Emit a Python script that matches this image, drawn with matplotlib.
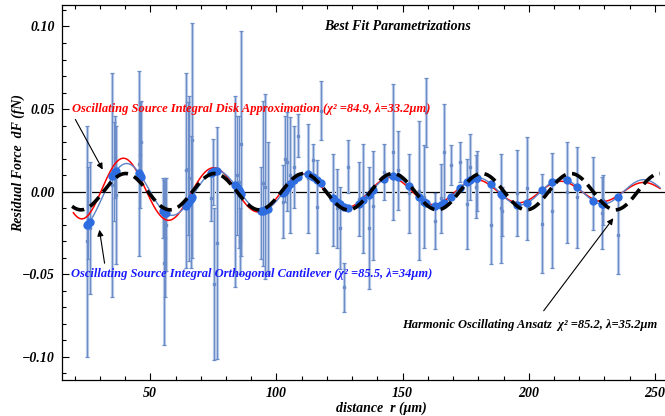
import numpy as np
import matplotlib
matplotlib.use("Agg")
import matplotlib.pyplot as plt
from matplotlib.ticker import MultipleLocator

# measured residuals: distance (um), force (fN), error (fN)
r_data = [25.0, 25.4, 26.0, 35.0, 35.5, 36.0, 36.4, 45.6, 46.1, 46.5,
          55.0, 55.5, 56.0, 56.4, 64.0, 64.8, 65.4, 66.0, 66.5,
          74.0, 74.8, 75.2, 76.3, 83.5, 84.2, 85.0, 85.5, 86.1,
          93.8, 94.6, 95.4, 96.5, 102.5, 103.3, 104.0, 105.5, 107.0, 108.5,
          112.5, 114.5, 116.0, 117.5, 122.5, 124.0, 125.0, 126.7, 128.3,
          132.8, 134.4, 136.5, 138.1, 142.7, 146.0, 148.0,
          152.6, 156.6, 158.6, 159.2, 163.0, 165.2, 166.5, 169.2,
          172.7, 175.4, 176.7, 179.0, 179.6, 184.9, 188.9, 189.5,
          195.2, 199.2, 205.4, 209.1, 215.2, 219.2, 225.4, 229.1, 229.5, 235.3]
f_data = [-0.030, -0.013, -0.022, 0.004, 0.012, 0.021, -0.002, 0.017, 0.022, 0.030,
          -0.010, -0.043, -0.028, -0.020, 0.013, 0.014, 0.008, -0.006, 0.031,
          -0.004, 0.012, -0.056, -0.031, 0.000, 0.010, 0.006, -0.030, 0.029,
          -0.013, 0.005, 0.003, -0.010, -0.006, 0.020, 0.018, 0.010, 0.015, 0.034,
          0.008, 0.019, -0.009, 0.049, -0.005, -0.010, -0.022, -0.058, 0.015,
          -0.0045, -0.004, -0.022, -0.0085, 0.012, 0.024, 0.013,
          -0.001, 0.0005, -0.003, 0.048, -0.018, -0.004, 0.024, 0.016,
          0.018, -0.0075, 0.015, 0.003, 0.0066, -0.020, -0.010, -0.012,
          -0.001, 0.002, -0.0195, -0.0115, -0.0005, -0.0035, -0.001, -0.013, -0.005, -0.0265]
e_data = [0.070, 0.028, 0.040, 0.068, 0.030, 0.025, 0.042, 0.056, 0.032, 0.025,
          0.018, 0.050, 0.036, 0.028, 0.059, 0.040, 0.050, 0.040, 0.071,
          0.014, 0.020, 0.046, 0.070, 0.058, 0.036, 0.040, 0.020, 0.068,
          0.028, 0.050, 0.056, 0.040, 0.022, 0.026, 0.030, 0.035, 0.025, 0.013,
          0.033, 0.010, 0.028, 0.018, 0.028, 0.024, 0.025, 0.015, 0.016,
          0.0225, 0.033, 0.037, 0.033, 0.017, 0.041, 0.024,
          0.024, 0.042, 0.031, 0.021, 0.017, 0.021, 0.029, 0.012,
          0.012, 0.027, 0.020, 0.019, 0.018, 0.024, 0.033, 0.015,
          0.026, 0.031, 0.030, 0.035, 0.0305, 0.0305, 0.022, 0.022, 0.015, 0.0235]

# fit curve parameters
harm_amp, harm_lam, harm_r0 = 0.011, 35.3, 40.2
disk_k, disk_p, disk_r0, disk_lam, disk_c = 0.0183, 0.82, 39.5, 36.3, 7.5e-6
cant_k, cant_p, cant_r0, cant_lam, cant_c = 0.0215, 0.474, 41.0, 36.0, 7.5e-6

r_data = np.array(r_data)
f_data = np.array(f_data)
e_data = np.array(e_data)


def chirp(r, r0, lam, c):
    d = r - r0
    return np.cos(2 * np.pi * (d / lam + c * d ** 2))


def disk(r):
    env = disk_k * (r / 58.0) ** (-disk_p) * (1 - np.exp(-(r - 14.0) / 15.5))
    return env * chirp(r, disk_r0, disk_lam, disk_c)


def cant(r):
    return cant_k * (r / 25.0) ** (-cant_p) * chirp(r, cant_r0, cant_lam, cant_c)


def harm(r):
    return harm_amp * np.cos(2 * np.pi * (r - harm_r0) / harm_lam)


font = dict(family="Liberation Serif", weight="bold", style="italic")

fig = plt.figure(figsize=(6.65, 4.16), dpi=100)
ax = fig.add_axes([62 / 665, 1 - 380 / 416, 1 - 62 / 665, 375 / 416])

ax.axhline(0, color="black", lw=0.9, zorder=1)

# error bars: light wide band with thin darker core
ax.errorbar(r_data, f_data, yerr=e_data, fmt="none", ecolor="#b7c9e6",
            elinewidth=2.3, capsize=0, zorder=2)
ax.errorbar(r_data, f_data, yerr=e_data, fmt="s", ms=1.8, color="#6a8cc8",
            ecolor="#6a8cc8", elinewidth=0.7, capsize=1.4, capthick=0.9, zorder=3)

rr = np.linspace(19.5, 252, 600)
ax.plot(rr, disk(rr), color="red", lw=1.1, zorder=4)
rb = np.linspace(25.0, 252, 600)
ax.plot(rb, cant(rb), color="#5b84c8", lw=1.0, zorder=4)
ax.plot(r_data, cant(r_data), "o", color="#2d6de0", ms=5, zorder=5)
rh = np.linspace(19.0, 252, 600)
ax.plot(rh, harm(rh), color="black", lw=2.6, dashes=(3.6, 1.8), zorder=6)

ax.set_xlim(15, 254)
ax.set_ylim(-0.114, 0.113)
ax.spines["right"].set_visible(False)
for s in ["left", "top", "bottom"]:
    ax.spines[s].set_linewidth(0.9)
ax.xaxis.set_major_locator(MultipleLocator(50))
ax.xaxis.set_minor_locator(MultipleLocator(10))
ax.yaxis.set_major_locator(MultipleLocator(0.05))
ax.yaxis.set_minor_locator(MultipleLocator(0.01))
ax.tick_params(which="both", direction="in", top=True, right=False, width=0.8)
ax.tick_params(which="major", length=5, pad=5)
ax.tick_params(which="minor", length=3)
ax.set_xticks([50, 100, 150, 200, 250])
ax.set_xticklabels(["50", "100", "150", "200", "250"], fontsize=10, **font)
ax.set_yticks([-0.10, -0.05, 0.0, 0.05, 0.10])
ax.set_yticklabels(["\u22120.10", "\u22120.05", "0.00", "0.05", "0.10"], fontsize=10, **font)

fig.text(18 / 665, 1 - 163 / 416, "Residual Force  dF (fN)", rotation=90,
         ha="center", va="center", fontsize=10, **font)
fig.text(381 / 665, 1 - 408 / 416, "distance  r (\u03bcm)", ha="center", va="center",
         fontsize=10, **font)
fig.text(397 / 665, 1 - 26 / 416, "Best Fit Parametrizations", ha="center", va="center",
         fontsize=10, **font)
fig.text(72 / 665, 1 - 109 / 416,
         "Oscillating Source Integral Disk Approximation (\u03c7\u00b2 =84.9, \u03bb=33.2\u03bcm)",
         ha="left", va="center", color="red", fontsize=9, **font)
fig.text(71 / 665, 1 - 274 / 416,
         "Oscillating Source Integral Orthogonal Cantilever (\u03c7\u00b2 =85.5, \u03bb=34\u03bcm)",
         ha="left", va="center", color="#1a1aff", fontsize=9, **font)
fig.text(402 / 665, 1 - 325 / 416,
         "Harmonic Oscillating Ansatz  \u03c7\u00b2 =85.2, \u03bb=35.2\u03bcm",
         ha="left", va="center", color="black", fontsize=9, **font)

arrow = dict(arrowstyle="-|>", color="black", lw=0.8, mutation_scale=9)
for (x0, y0), (x1, y1) in [((74, 117), (104, 172)),
                           ((105, 266), (99, 227)),
                           ((542, 313), (615, 216))]:
    ax.annotate("", xy=(x1 / 665, 1 - y1 / 416), xycoords="figure fraction",
                xytext=(x0 / 665, 1 - y0 / 416), textcoords="figure fraction",
                arrowprops=arrow)

fig.savefig("out.png", dpi=100)
